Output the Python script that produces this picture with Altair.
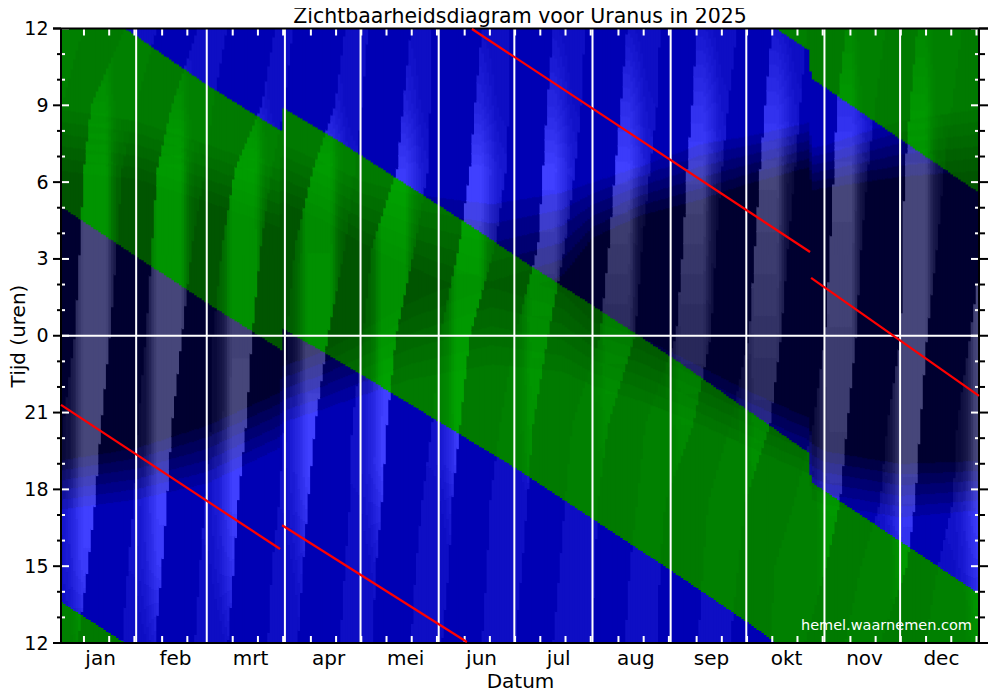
import numpy as np
import pandas as pd
import altair as alt

alt.data_transformers.disable_max_rows()

# Hour scale: h = hours after noon, 0 (bottom, 12h) .. 24 (top, 12h). x = day of the year.
MONTHS = ["jan","feb","mrt","apr","mei","jun","jul","aug","sep","okt","nov","dec"]
MONTH_STARTS = [31,59,90,120,151,181,212,243,273,304,334]
MONTH_ALL = [0,31,59,90,120,151,181,212,243,273,304,334]
MONTH_MIDS = [16.7,46.4,76.2,107.1,137.7,167.8,198.4,229.0,259.0,288.8,319.7,350.2]

# Edges of the band where Uranus is above the horizon
UP_D = [1.2,26.6,59.1,88.5,89.2,111.9,166.2,181.3,211.8,246.7,297.9,298.7,364.9,366]
UP_H = [25.6,24.0,21.8,20.0,20.9,19.57,16.13,15.12,13.2,10.94,7.42,6.29,1.95,1.9]
LO_D = [1.2,31.3,59.1,88.5,89.2,111.9,181.3,242.8,273.3,284.8,297.9,298.7,364.9,366]
LO_H = [17.03,15.08,13.28,11.45,12.27,10.98,6.84,2.85,0.82,0.0,-0.86,-1.93,-6.39,-6.45]

# Twilight: evening bright/dark, morning dark/bright limits
SKY_D  = [0,31,59,88,89,105,120,140,172,200,212,231,255,275,298,299,304,334,366]
EVE_B  = [5.0,5.4,6.0,7.4,8.4,8.9,9.4,10.0,10.5,10.3,9.8,9.2,8.3,7.4,6.4,5.4,5.2,4.7,5.0]
EVE_D  = [7.3,7.8,8.7,10.0,11.0,11.6,12.4,13.6,15.0,14.0,12.8,12.2,11.0,10.0,9.0,8.0,7.7,7.2,7.3]
MOR_D  = [18.2,17.9,17.0,16.0,17.0,16.3,15.4,14.4,13.0,14.0,15.6,16.5,17.1,17.8,18.4,17.5,17.6,18.0,18.2]
MOR_B  = [21.1,20.6,19.7,18.7,19.7,19.0,18.3,17.8,17.5,17.9,18.2,18.8,19.7,20.0,20.5,19.5,19.6,20.6,21.1]

# Moon stripes: one row per lunation, edges (day) at the hours of MOON_H
MOON_H = [24,21,18.5,15.5,12,8.5,5.5,3,0]
FULL = [-16.6,12.9,42.6,72.3,102,131.7,161.3,190.9,220.3,249.8,279.1,308.6,338,367.4]
SET_EDGE = [
 [-60,-60,-60,-60,-60,-60,-60,-60,-60],
 [26.6,13.1,10.3,8.7,6.7,2.0,-1.2,-5.2,-9.1],
 [55.5,45.2,39.3,37.3,34.9,31.7,30.1,27.8,25.4],
 [86.1,80.9,70.2,65.1,61.5,60.7,58.3,56.3,54.3],
 [113.9,109.9,101.2,94,90.8,89.7,87.7,84.9,83.3],
 [140,136.9,134.5,124.6,121,116.6,115.8,113.9,111.9],
 [168.2,165.4,163.4,159.1,151.5,148.4,144.4,142,140],
 [196.4,194,192.4,190.4,181.3,175.3,171.4,170.2,168.2],
 [225.7,223.3,221,218.6,215,203.9,201.1,199.1,196.4],
 [253.5,251.5,249.5,247.9,245.2,232.9,229.7,226.9,224.9],
 [283.2,280.5,278.5,276.5,274.1,266.6,257.9,255.9,253.9],
 [312.6,309,307.8,306.3,304.3,299.5,292,284.4,282.5],
 [340.8,338,336,334.8,334.4,328.9,326.1,318.5,312.2],
 [373.7,371.7,369.7,366.6,361.8,356.6,355,349.1,343.9],
]
RISE_EDGE = [
 [9.9,1.6,-3,-6,-10,-14,-18,-20,-24],
 [39.3,30.9,25.4,23.4,20.6,17.1,14.7,11.9,7.9],
 [67,61.5,58.3,53.2,49.2,45.2,43.2,41.3,38.5],
 [93.2,89.7,84.9,80.5,77,74.6,71.4,69.8,67.4],
 [123,120.6,117.8,113.9,107.1,102,99.2,97.2,95.2],
 [148.4,147.6,146.8,141.6,134.1,130.5,128.5,126.2,124.6],
 [179.3,178.9,177.7,173.4,163.4,159.5,156.3,155.1,152.3],
 [209,207.5,205.1,201.1,194.4,188.4,186.1,184.1,181.3],
 [238.8,237.6,234.8,231.7,228.9,218.2,214.2,213,211.8],
 [269.4,265.8,263.4,261,259,251.9,240.8,238.8,237.6],
 [297.1,294.4,292.4,289.6,286.8,282.4,272.5,269.8,266.6],
 [328.1,324.1,321.3,318.6,316.6,313,310.2,304.7,296.3],
 [358.6,354.6,351.5,348.7,344.7,342,340,336.8,326.1],
 [400,395,392,388,384,380,378,376,372],
]
# Moon strength near rising (hours 0,3,5.5,7) and setting (hours 18.5,21,24)
ALT_H = [0,3,5.5,7,18.5,21,24]
MOON_ALT = [
 [.5,.95,1,1,1,.55,.25],[.5,.95,1,1,1,.55,.25],[.45,.9,1,1,1,.5,.25],[.35,.8,1,1,.9,.45,.22],
 [.3,.55,.9,1,.85,.45,.22],[.25,.45,.8,1,.9,.5,.25],[.2,.3,.6,.9,1,.55,.25],[.15,.18,.25,.5,1,.6,.28],
 [.15,.15,.2,.3,1,.7,.3],[.15,.15,.2,.3,1,.75,.35],[.2,.3,.4,.5,1,.75,.35],[.4,.6,.7,.8,1,.7,.35],
 [.4,.7,.9,1,1,.65,.35],[.45,.8,1,1,1,.6,.3],
]
PHASE_OFF = [-30,-20,-12,-10,-8,-6,-5,-4,-3,0,6,7,8,9,10,12,14,20,30]
PHASE_NIGHT = [.1,.1,.12,.15,.25,.5,.7,.9,1,1,1,.85,.6,.42,.28,.16,.12,.1,.1]
PHASE_DAY   = [.2,.25,.3,.4,.5,.7,.8,.9,1,1,1,.95,.85,.78,.7,.5,.4,.3,.2]

# Uranus' meridian transit, split at the clock changes and the day wrap
RED_SEG = ["a","a","b","b","c","c","d","d"]
RED_D = [1.19,88.1,88.9,162.2,164.2,298.3,298.7,365.3]
RED_H = [9.3,3.67,4.6,0.04,23.98,15.27,14.26,9.65]

DAY_MIN, DAY_MAX = 1.19, 365.3

# ---- build the cells of the picture from the readings above
days = np.arange(1, 366)
dh = 24 / 615
hs = (np.arange(615) + .5) * dh
DC = days + .5

def sky(col):
    return np.interp(DC, SKY_D, col)[:, None]

H = hs[None, :]
d_eve = np.clip((H - sky(EVE_B)) / (sky(EVE_D) - sky(EVE_B)), 0, 1)
d_mor = np.clip((sky(MOR_B) - H) / (sky(MOR_B) - sky(MOR_D)), 0, 1)
D = np.round(np.minimum(d_eve, d_mor) * 6) / 6

up = np.interp(DC, UP_D, UP_H)[:, None]
lo = np.interp(DC, LO_D, LO_H)[:, None]
green = np.zeros_like(D, dtype=bool)
for k in (-24, 0, 24):
    green |= (H >= lo + k) & (H <= up + k)

M_b = np.zeros_like(D)
M_g = np.zeros_like(D)
mh = np.array(MOON_H[::-1], float)
for k in range(len(FULL)):
    s = np.interp(hs, mh, SET_EDGE[k][::-1])
    r = np.interp(hs, mh, RISE_EDGE[k][::-1])
    alt_f = np.interp(hs, ALT_H, MOON_ALT[k])[None, :]
    ph_n = np.interp(DC - FULL[k], PHASE_OFF, PHASE_NIGHT)[:, None]
    ph_d = np.interp(DC - FULL[k], PHASE_OFF, PHASE_DAY)[:, None]
    inside = (DC[:, None] >= s[None, :]) & (DC[:, None] <= r[None, :])
    val_b = (ph_d * (1 - D) + ph_n * D) * alt_f
    val_g = ph_n * alt_f
    M_b = np.maximum(M_b, np.maximum(val_b, .2 * (1 - D) + .02) * inside)
    M_g = np.maximum(M_g, np.maximum(val_g, .1 * (1 - D) + .02) * inside)
M_b = np.round(M_b * 14) / 14
M_g = np.round(M_g * 14) / 14

rb = M_b * (64 + 6 * D)
bb = (180 * (1 - D) + 48 * D) * (1 - M_b) + M_b * (255 * (1 - D) + 122 * D)
gg = (122 * (1 - D) + 85 * D) * (1 - M_g) + M_g * (165 * (1 - D) + 148 * D)
R_ = np.where(green, 0, rb).round().astype(int)
G_ = np.where(green, gg, rb).round().astype(int)
B_ = np.where(green, 0, bb).round().astype(int)
code = (R_ << 16) + (G_ << 8) + B_

rows = []
for i, d in enumerate(days):
    col = code[i]
    start = 0
    for j in range(1, len(col) + 1):
        if j == len(col) or col[j] != col[start]:
            rows.append((int(d), round(d + 1.5, 2), round(start * dh, 3),
                         round(min(j * dh + .05, 24), 3), "#%06x" % col[start]))
            start = j
cells = pd.DataFrame(rows, columns=["d", "d2", "h", "h2", "c"])

x_scale = alt.Scale(domain=[DAY_MIN, DAY_MAX], nice=False, zero=False)
y_scale = alt.Scale(domain=[0, 24], nice=False, zero=False)
FONT = "DejaVu Sans"
W, HT = 918, 614.5

labels_expr = "[" + ",".join("'%s'" % m for m in MONTHS) + "][indexof([" + ",".join(str(v) for v in MONTH_MIDS) + "],datum.value)]"

cell_layer = alt.Chart(cells).mark_rect(clip=True, strokeWidth=0).encode(
    x=alt.X("d:Q", scale=x_scale, axis=alt.Axis(values=MONTH_MIDS, labelExpr=labels_expr, ticks=False, domain=False,
            grid=False, labelFont=FONT, labelFontSize=20, labelColor="black", labelPadding=5,
            title="Datum", titleFont=FONT, titleFontSize=20, titleFontWeight="normal", titlePadding=3)),
    x2="d2:Q",
    y=alt.Y("h:Q", scale=y_scale, axis=alt.Axis(values=list(range(0, 25, 3)), labelExpr="(datum.value+12)%24",
            ticks=False, domain=False, grid=False, labelFont=FONT, labelFontSize=19, labelColor="black", labelPadding=13,
            title="Tijd (uren)", titleFont=FONT, titleFontSize=20, titleFontWeight="normal", titleX=-33, titleY=307)),
    y2="h2:Q",
    color=alt.Color("c:N", scale=None),
)

months_df = pd.DataFrame({"d": MONTH_STARTS})
month_lines = alt.Chart(months_df).mark_rule(color="white", strokeWidth=2).encode(x=alt.X("d:Q", scale=x_scale))
zero_df = pd.DataFrame({"h": [12]})
zero_line = alt.Chart(zero_df).mark_rule(color="white", strokeWidth=2).encode(y=alt.Y("h:Q", scale=y_scale))

red_df = pd.DataFrame({"s": RED_SEG, "d": RED_D, "h": RED_H})
red = alt.Chart(red_df).mark_line(color="#ff0000", strokeWidth=2.2).encode(
    x=alt.X("d:Q", scale=x_scale), y=alt.Y("h:Q", scale=y_scale), detail="s:N")

tick_days = [m + o + .3 for m in MONTH_ALL for o in (10, 20, 30) if m + o < 365 and not (m == 31 and o == 30)]
ticks_df = pd.DataFrame({"d": tick_days})
x_top = alt.Chart(ticks_df).mark_rule(color="white", strokeWidth=2).encode(
    x=alt.X("d:Q", scale=x_scale), y=alt.value(0), y2=alt.value(7))
x_bot = alt.Chart(ticks_df).mark_rule(color="white", strokeWidth=2).encode(
    x=alt.X("d:Q", scale=x_scale), y=alt.value(HT - 7), y2=alt.value(HT))

hours_minor = pd.DataFrame({"h": [h for h in range(1, 24) if h % 3]})
hours_major = pd.DataFrame({"h": list(range(0, 25, 3))})
def hour_ticks(df, x0, x1, color):
    return alt.Chart(df).mark_rule(color=color, strokeWidth=2).encode(
        y=alt.Y("h:Q", scale=y_scale), x=alt.value(x0), x2=alt.value(x1))

tick_layers = [
    hour_ticks(hours_minor, 0, 4, "white"), hour_ticks(hours_minor, -4, 0, "black"),
    hour_ticks(hours_major, 0, 8, "white"), hour_ticks(hours_major, -8, 0, "black"),
    hour_ticks(hours_minor, W - 4, W, "white"), hour_ticks(hours_minor, W, W + 6, "black"),
    hour_ticks(hours_major, W - 8, W, "white"), hour_ticks(hours_major, W, W + 9, "black"),
]
frame_df = pd.DataFrame({"h": [0, 24]})
frame_h = alt.Chart(frame_df).mark_rule(color="black", strokeWidth=2).encode(
    y=alt.Y("h:Q", scale=y_scale), x=alt.value(-8), x2=alt.value(W + 9))
frame_v = alt.Chart(pd.DataFrame({"d": [DAY_MIN, DAY_MAX]})).mark_rule(color="black", strokeWidth=2).encode(
    x=alt.X("d:Q", scale=x_scale))

watermark = alt.Chart(pd.DataFrame({"t": ["hemel.waarnemen.com"]})).mark_text(
    color="white", font=FONT, fontSize=14.5, align="right", baseline="middle").encode(
    text="t:N", x=alt.value(911), y=alt.value(597.5))

chart = alt.layer(cell_layer, month_lines, zero_line, *tick_layers, x_top, x_bot, frame_v, frame_h, red, watermark).properties(
    width=W, height=HT,
    title=alt.TitleParams("Zichtbaarheidsdiagram voor Uranus in 2025", font=FONT, fontSize=20.5, fontWeight="normal", color="black", offset=-8, anchor="middle"),
    autosize=alt.AutoSizeParams(type="none"),
    padding={"left": 53, "top": 20.5, "right": 12, "bottom": 50},
).configure_view(stroke=None)

chart.save("out.html", embed_options={"renderer": "svg", "actions": False})
